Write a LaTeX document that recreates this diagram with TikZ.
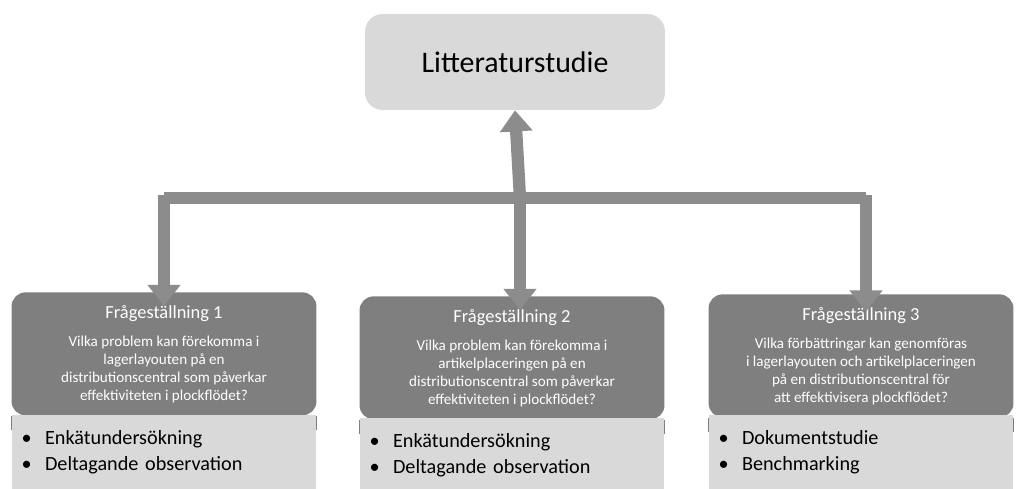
\documentclass[tikz,border=0pt]{standalone}
\usepackage{fontspec}
\setmainfont{Carlito}
\usetikzlibrary{arrows.meta,positioning}
\definecolor{boxdark}{HTML}{7F7F7F}
\definecolor{boxlight}{HTML}{D9D9D9}
\definecolor{linkgray}{HTML}{8C8C8C}
\tikzset{
  topbox/.style={fill=boxlight, rounded corners=10pt, minimum width=6cm, minimum height=1.92cm, font=\fontsize{17}{20}\selectfont},
  headbox/.style={fill=boxdark, text=white, rounded corners=8pt, minimum width=6.1cm, minimum height=2.46cm, anchor=north},
  listbox/.style={fill=boxlight, minimum width=6.1cm, minimum height=1.48cm, anchor=north, align=left, font=\fontsize{11.5}{15}\selectfont, text width=5.7cm},
  link/.style={draw=linkgray, line width=7pt},
  linkarrow/.style={link, -{Triangle[length=12pt,width=18pt]}}
}
\begin{document}
\begin{tikzpicture}[x=0.02cm,y=-0.02cm]
  \useasboundingbox (0,0) rectangle (1024,489);
  % top box
  \node[topbox] (lit) at (515,62) {Litteraturstudie};
  % three questions
  \foreach \n/\x/\y/\q in {
    1/164/292/{Vilka problem kan förekomma i\\lagerlayouten på en\\distributionscentral som påverkar\\effektiviteten i plockflödet?},
    2/512/296/{Vilka problem kan förekomma i\\artikelplaceringen på en\\distributionscentral som påverkar\\effektiviteten i plockflödet?},
    3/861/294/{Vilka förbättringar kan genomföras\\i lagerlayouten och artikelplaceringen\\på en distributionscentral för\\att effektivisera plockflödet?}}{
    \node[headbox] (q\n) at (\x,\y) {};
    \node[text=white, font=\fontsize{10.5}{12}\selectfont, below=4pt of q\n.north] (t\n) {Frågeställning \n};
    \node[text=white, align=center, font=\fontsize{8.6}{10.4}\selectfont, below=1pt of t\n] (d\n) {\q};
    \fill[boxdark] ([yshift=-8pt]q\n.south west) rectangle (q\n.south east);
  }
  \node[listbox] (l1) at (164,415) {\textbullet\ \ Enkätundersökning\\\textbullet\ \ Deltagande observation};
  \node[listbox] (l2) at (512,418) {\textbullet\ \ Enkätundersökning\\\textbullet\ \ Deltagande observation};
  \node[listbox] (l3) at (861,415) {\textbullet\ \ Dokumentstudie\\\textbullet\ \ Benchmarking};
  % connectors
  \coordinate (bar) at (520,198);
  \draw[link] (164,198) -- (866,198);
  \draw[linkarrow] (bar) -- (lit.south);
  \draw[linkarrow] (bar) -- ([yshift=-8pt]q2.north -| bar);
  \draw[linkarrow] (164,195) -- ([yshift=-8pt]q1.north);
  \draw[linkarrow] (866,195) -- ([yshift=-10pt]q3.north -| 866,0);
\end{tikzpicture}
\end{document}
